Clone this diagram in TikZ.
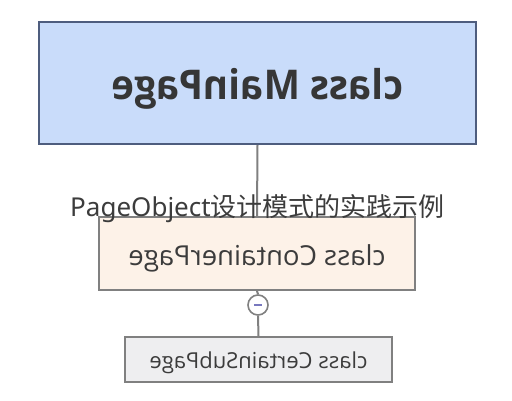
\documentclass[tikz,border=0pt]{standalone}
\usepackage{fontspec}
\setmainfont{Open Sans}
\newfontfamily\notos{Noto Sans}
\newfontfamily\cjk{Noto Sans CJK SC}
\definecolor{mainfill}{RGB}{201,220,250}
\definecolor{mainedge}{RGB}{78,93,126}
\definecolor{contfill}{RGB}{253,242,232}
\definecolor{subfill}{RGB}{238,238,240}
\definecolor{edgegray}{RGB}{128,128,128}
\definecolor{txt}{RGB}{60,60,60}
\definecolor{minuscol}{RGB}{120,120,190}
\tikzset{
  boxbase/.style={rectangle, line width=2pt, inner sep=0pt},
  mainbox/.style={boxbase, draw=mainedge, fill=mainfill, minimum width=437pt, minimum height=122pt,
     font=\fontsize{41}{46}\selectfont\bfseries, text=txt!90!black},
  contbox/.style={boxbase, draw=edgegray, fill=contfill, minimum width=316pt, minimum height=73pt,
     font=\fontsize{27.5}{32}\selectfont, text=txt},
  subbox/.style={boxbase, draw=edgegray, fill=subfill, minimum width=267pt, minimum height=45pt,
     font=\fontsize{22}{26}\selectfont, text=txt},
  conn/.style={draw=edgegray, line width=2pt},
  togglec/.style={circle, draw=edgegray, fill=white, line width=1.6pt, minimum size=20pt, inner sep=0pt},
  titletext/.style={anchor=base, inner sep=0pt, text=txt, font=\fontsize{26}{30}\selectfont}
}
\begin{document}
\begin{tikzpicture}[x=1pt,y=-1pt]
\useasboundingbox (0,0) rectangle (512,400);
\node[mainbox] (main) at (257.5,83) {\raisebox{-16pt}[0pt][0pt]{\scalebox{-0.94}[1]{class MainPage}}};
\node[contbox] (cont) at (257,253.5) {\raisebox{-11.5pt}[0pt][0pt]{\reflectbox{class ContainerPage}}};
\node[togglec] (tog) at (258,305) {};
\node[subbox] (sub) at (258.5,359.5) {\raisebox{-8.5pt}[0pt][0pt]{\reflectbox{class CertainSubPage}}};
\draw[conn] (main.south) -- (cont.north);
\draw[conn] (cont.south) -- (tog.north);
\draw[conn] (tog.south) -- (sub.north);
\draw[minuscol, line width=1.4pt] ([xshift=-4pt]tog.center) -- ([xshift=4pt]tog.center);
\node[titletext] (title) at (257.5,216) {{\notos PageObject}{\cjk 设计模式的实践示例}};
\end{tikzpicture}
\end{document}
